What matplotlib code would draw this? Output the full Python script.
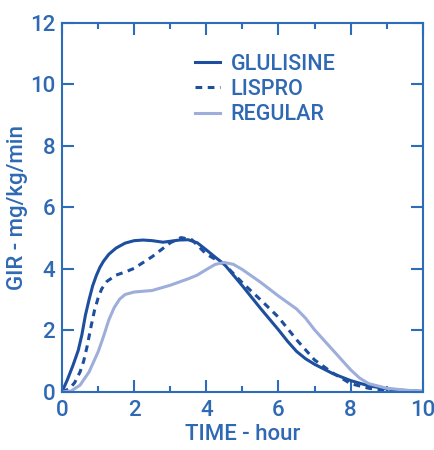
import matplotlib
matplotlib.use("Agg")
import matplotlib.pyplot as plt
from matplotlib.ticker import MultipleLocator

plt.rcParams['font.family'] = ['Roboto', 'DejaVu Sans']

# ---- data ----
glulisine_t = [0, 0.15, 0.3, 0.45, 0.55, 0.65, 0.75, 0.85, 0.95, 1.05, 1.15, 1.3, 1.5, 1.75, 2.0,
               2.25, 2.5, 2.8, 3.0, 3.25, 3.5, 3.75, 4.0, 4.25, 4.5, 5.0, 5.5, 6.0, 6.25, 6.5,
               6.75, 7.0, 7.5, 8.0, 8.5, 9.0, 9.5, 10.0]
glulisine_v = [0, 0.4, 0.85, 1.35, 1.85, 2.5, 3.0, 3.45, 3.78, 4.05, 4.25, 4.48, 4.68, 4.84, 4.92,
               4.94, 4.92, 4.87, 4.9, 4.94, 4.95, 4.85, 4.62, 4.38, 4.15, 3.45, 2.72, 2.02, 1.65, 1.32,
               1.08, 0.9, 0.6, 0.37, 0.2, 0.1, 0.05, 0.02]

lispro_t = [0, 0.2, 0.35, 0.5, 0.6, 0.7, 0.8, 0.9, 1.0, 1.1, 1.25, 1.5, 1.75, 2.0, 2.5, 3.0,
            3.3, 3.6, 4.0, 4.5, 5.0, 5.5, 6.0, 6.5, 7.0, 7.5, 8.0, 8.5, 9.0, 9.5, 10.0]
lispro_v = [0, 0.1, 0.3, 0.65, 1.0, 1.5, 2.1, 2.65, 3.05, 3.35, 3.6, 3.8, 3.9, 4.02, 4.4, 4.85,
            5.02, 4.95, 4.48, 4.15, 3.55, 3.0, 2.43, 1.7, 1.04, 0.62, 0.27, 0.12, 0.05, 0.02, 0]

regular_t = [0, 0.25, 0.5, 0.75, 1.0, 1.15, 1.3, 1.45, 1.6, 1.75, 2.0, 2.5, 3.0, 3.5, 3.75, 4.0,
             4.25, 4.5, 4.75, 5.0, 5.5, 6.0, 6.5, 6.75, 7.0, 7.5, 8.0, 8.25, 8.5, 9.0, 9.5, 10.0]
regular_v = [0, 0.03, 0.22, 0.65, 1.3, 1.8, 2.35, 2.75, 3.02, 3.17, 3.25, 3.3, 3.47, 3.68, 3.8, 3.98,
             4.15, 4.21, 4.15, 3.98, 3.57, 3.12, 2.7, 2.4, 2.02, 1.37, 0.72, 0.45, 0.27, 0.12, 0.06, 0.02]

labels = ["GLULISINE", "LISPRO", "REGULAR"]
x_ticks = [0, 2, 4, 6, 8, 10]
y_ticks = [0, 2, 4, 6, 8, 10, 12]

axis_col = '#2c6cb8'
text_col = '#2f69b3'
dark = '#1d4f9e'
light = '#9eaedb'

fig = plt.figure(figsize=(4.35, 4.5), dpi=100)
ax = fig.add_axes([0.1425, 0.129, 0.8295, 0.82])

ax.plot(glulisine_t, glulisine_v, color=dark, lw=2.2, label=labels[0], solid_joinstyle='round')
ax.plot(lispro_t, lispro_v, color=dark, lw=2.2, dashes=(2.2, 1.8), label=labels[1])
ax.plot(regular_t, regular_v, color=light, lw=2.2, label=labels[2], solid_joinstyle='round')

ax.set_xlim(0, 10)
ax.set_ylim(0, 12)
ax.set_xticks(x_ticks)
ax.set_yticks(y_ticks)
ax.xaxis.set_minor_locator(MultipleLocator(1))

for s in ax.spines.values():
    s.set_color(axis_col)
    s.set_linewidth(1.5)

ax.tick_params(which='both', direction='in', top=True, right=True, color=axis_col, width=1.5,
               labelcolor=text_col, labelsize=16)
ax.tick_params(which='major', length=8.5)
ax.tick_params(which='minor', length=4.5)
ax.tick_params(axis='x', pad=6)
ax.tick_params(axis='y', pad=5)
for lab in ax.get_xticklabels() + ax.get_yticklabels():
    lab.set_fontweight('medium')

ax.set_xlabel("TIME - hour", color=text_col, fontsize=16, labelpad=2, fontweight='medium')
ax.set_ylabel("GIR - mg/kg/min", color=text_col, fontsize=16, labelpad=1, fontweight='medium')

leg = ax.legend(loc='upper left', bbox_to_anchor=(0.345, 0.94), frameon=False,
                prop={'size': 15.5, 'weight': 'medium'},
                handlelength=1.15, handletextpad=0.5, labelspacing=0.2, borderaxespad=0)
for t in leg.get_texts():
    t.set_color(text_col)

fig.savefig("out.png", dpi=100)
